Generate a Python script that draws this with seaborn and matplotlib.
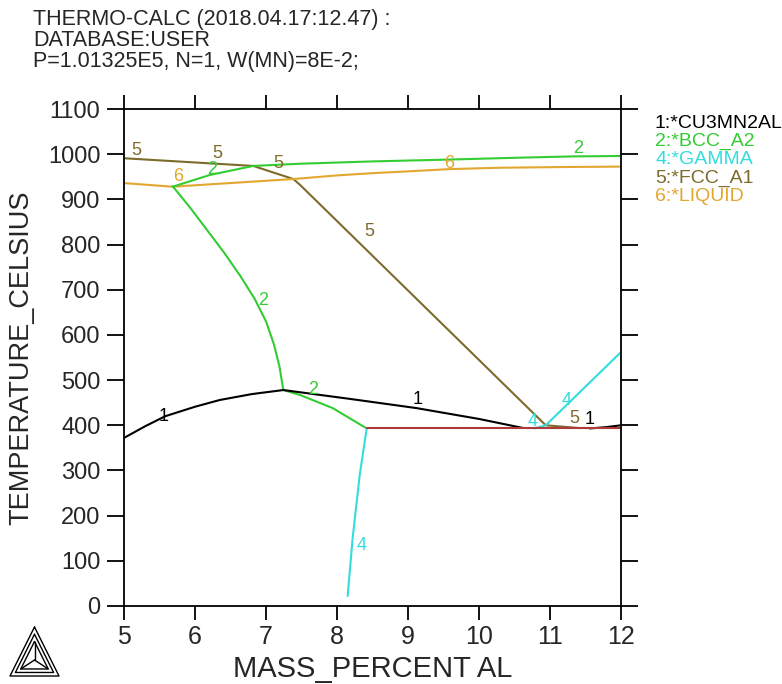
import numpy as np
import pandas as pd
import seaborn as sns
import matplotlib
matplotlib.use("Agg")
import matplotlib.pyplot as plt
from matplotlib.lines import Line2D

# phase boundary lines (x = mass percent Al, y = temperature C)
fcc_x = [5.0, 6.82, 7.385, 7.48, 10.94, 11.4]
fcc_y = [991, 974, 945, 932, 400, 394]

liq_x = [5.0, 5.686, 7.385, 8.0, 8.5, 9.0, 9.59, 10.3, 11.14, 12.0]
liq_y = [936, 928, 945, 953, 958, 962, 967, 970, 971.5, 972.5]

bcc_top_x = [5.686, 6.21, 6.82, 7.5, 8.5, 9.56, 10.5, 11.3, 12.0]
bcc_top_y = [928, 954, 974, 979, 984, 988, 992, 995, 996]

bcc_low_x = [5.686, 5.94, 6.18, 6.42, 6.64, 6.84, 7.0, 7.11, 7.19, 7.244, 7.479, 7.94, 8.418]
bcc_low_y = [929, 880, 830, 780, 730, 680, 630, 580, 530, 478, 467, 438, 393]

gam_low_x = [8.15, 8.22, 8.32, 8.418]
gam_low_y = [22, 150, 290, 393]

gam_right_x = [10.78, 10.94, 12.0]
gam_right_y = [393, 400, 562]

cu_left_x = [5.0, 5.3, 5.58, 6.0, 6.35, 6.8, 7.244, 8.2, 9.12, 10.0, 10.62]
cu_left_y = [372, 398, 420, 441, 456, 469, 478, 458, 438, 414, 394]

cu_right_x = [11.56, 11.8, 12.0]
cu_right_y = [393, 396, 400]

red_x = [8.418, 12.0]
red_y = [393, 393]

# curve number labels
lab_txt = ["5", "5", "5", "6", "2", "6", "2", "5", "2", "2", "1", "1", "4", "4", "5", "1", "4"]
lab_x = [5.18, 6.31, 7.18, 5.76, 6.24, 9.58, 11.39, 8.46, 6.96, 7.66, 5.56, 9.13, 10.76, 11.24, 11.34, 11.56, 8.35]
lab_y = [1009, 1002, 980, 950, 967, 980, 1013, 828, 677, 480, 420, 456, 409, 454, 416, 412, 135]
lab_ph = ["5", "5", "5", "6", "2", "6", "2", "5", "2", "2", "1", "1", "4", "4", "5", "1", "4"]

legend_items = ["1:*CU3MN2AL", "2:*BCC_A2", "4:*GAMMA", "5:*FCC_A1", "6:*LIQUID"]
legend_ph = ["1", "2", "4", "5", "6"]

title_lines = ["THERMO-CALC (2018.04.17:12.47) :", "DATABASE:USER", "P=1.01325E5, N=1, W(MN)=8E-2;"]

x_ticks = [5, 6, 7, 8, 9, 10, 11, 12]
y_ticks = [0, 100, 200, 300, 400, 500, 600, 700, 800, 900, 1000, 1100]

colors = {"1": "#000000", "2": "#33cc33", "4": "#33dddd",
          "5": "#7d6b2c", "6": "#e3a72f", "r": "#b03a3a"}

sns.set_style("ticks")
plt.rcParams["font.family"] = ["Liberation Sans", "DejaVu Sans"]

fig = plt.figure(figsize=(7.82, 6.84), dpi=100)
ax = fig.add_axes([124 / 782, 78 / 684, 497 / 782, 497 / 684])

segs = [(fcc_x, fcc_y, "5"), (liq_x, liq_y, "6"), (bcc_top_x, bcc_top_y, "2"),
        (bcc_low_x, bcc_low_y, "2"), (gam_low_x, gam_low_y, "4"),
        (gam_right_x, gam_right_y, "4"), (cu_left_x, cu_left_y, "1"),
        (cu_right_x, cu_right_y, "1"), (red_x, red_y, "r")]
for sx, sy, ph in segs:
    sns.lineplot(x=sx, y=sy, sort=False, estimator=None, color=colors[ph],
                 linewidth=1.5, ax=ax)

for t, x, y, ph in zip(lab_txt, lab_x, lab_y, lab_ph):
    ax.text(x, y, t, color=colors[ph], fontsize=13, ha="center", va="center")

ax.set_xlim(5, 12)
ax.set_ylim(0, 1100)
ax.set_xticks(x_ticks)
ax.set_yticks(y_ticks)
ax.tick_params(axis="both", which="both", direction="out",
               top=True, right=True, labeltop=False, labelright=False,
               width=1.3, color="black")
ax.tick_params(axis="y", length=12, pad=5, labelsize=17)
ax.tick_params(axis="x", length=10, pad=4, labelsize=18)
for sp in ax.spines.values():
    sp.set_visible(True)
    sp.set_linewidth(1.3)
    sp.set_color("black")

ax.set_xlabel("MASS_PERCENT AL", fontsize=21, labelpad=4)
ax.set_ylabel("TEMPERATURE_CELSIUS", fontsize=19.5, labelpad=10)

for i, line in enumerate(title_lines):
    fig.text(33 / 782, 1 - (20 + 20.5 * i) / 684, line,
             fontsize=15.5, va="center", ha="left")

for i, (txt, ph) in enumerate(zip(legend_items, legend_ph)):
    fig.text(655 / 782, 1 - (123 + 18.4 * i) / 684, txt, color=colors[ph],
             fontsize=14, va="center", ha="left")

# Thermo-Calc logo
def px(x, y):
    return x / 782, 1 - y / 684

cx, cy = 34.5, 660
for s in [1.0, 0.78, 0.56]:
    top = (cx, cy - 33 * s)
    bl = (cx - 24.5 * s, cy + 16 * s)
    br = (cx + 24.5 * s, cy + 16 * s)
    pts = [top, bl, br, top]
    fig.add_artist(Line2D([px(*p)[0] for p in pts], [px(*p)[1] for p in pts],
                          color="black", linewidth=1.0))
inner = 0.56
for v in [(cx, cy - 33 * inner), (cx - 24.5 * inner, cy + 16 * inner), (cx + 24.5 * inner, cy + 16 * inner)]:
    fig.add_artist(Line2D([px(cx, cy)[0], px(*v)[0]], [px(cx, cy)[1], px(*v)[1]],
                          color="black", linewidth=1.0))

fig.savefig("out.png", dpi=100)
